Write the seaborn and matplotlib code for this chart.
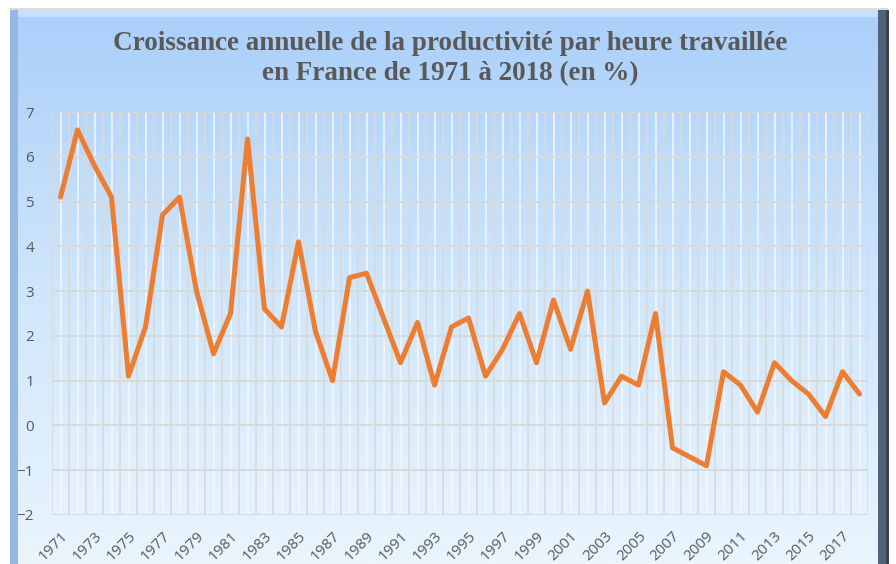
import numpy as np
import matplotlib
matplotlib.use("Agg")
import matplotlib.pyplot as plt
import seaborn as sns
from matplotlib.patches import Rectangle

# Données
annees = list(range(1971, 2019))
croissance = [5.1, 6.6, 5.8, 5.1, 1.1, 2.2, 4.7, 5.1, 3.0, 1.6,
              2.5, 6.4, 2.6, 2.2, 4.1, 2.1, 1.0, 3.3, 3.4, 2.4,
              1.4, 2.3, 0.9, 2.2, 2.4, 1.1, 1.7, 2.5, 1.4, 2.8,
              1.7, 3.0, 0.5, 1.1, 0.9, 2.5, -0.5, -0.7, -0.9, 1.2,
              0.9, 0.3, 1.4, 1.0, 0.7, 0.2, 1.2, 0.7]
etiquettes = [str(a) if (a - 1971) % 2 == 0 else "" for a in annees]

titre = "Croissance annuelle de la productivité par heure travaillée\nen France de 1971 à 2018 (en %)"

sns.set_style("white")
plt.rcParams['font.family'] = ['Open Sans', 'DejaVu Sans']

fig = plt.figure(figsize=(8.96, 5.64), dpi=100)
fig.patch.set_facecolor("white")

W, H = 896, 564

# Cadre avec dégradé bleu
bg = fig.add_axes([0, 0, 1, 1], zorder=0)
bg.set_xlim(0, W)
bg.set_ylim(H, 0)
bg.axis("off")
grad = np.linspace(0, 1, 256).reshape(-1, 1)
cmap = matplotlib.colors.LinearSegmentedColormap.from_list("fond", ["#aacffa", "#cfe6fc", "#eaf5fe"])
bg.imshow(grad, cmap=cmap, aspect="auto", extent=[10, 886, H, 10], zorder=1)
bg.add_patch(Rectangle((9, 8), 879, 2, color="#dcdcdc", lw=0, zorder=2))
bg.add_patch(Rectangle((10, 10), 876, 7, color="#c6e0fc", lw=0, zorder=2))
bg.add_patch(Rectangle((10, 10), 8, H - 10, color="#93b9e4", lw=0, zorder=3))
bg.add_patch(Rectangle((878, 10), 8, H - 10, color="#51627a", lw=0, zorder=3))
bg.add_patch(Rectangle((886, 10), 3, H - 10, color="#3a4350", lw=0, zorder=3))

# Zone de tracé
ax = fig.add_axes([52 / W, 1 - 515 / H, (868 - 52) / W, (515 - 112) / H], zorder=2)
ax.set_facecolor("none")

sns.lineplot(x=annees, y=croissance, ax=ax, color="#ed7d31", linewidth=3.6, zorder=5)

ax.set_xlim(1970.5, 2018.5)
ax.set_ylim(-2, 7)
ax.set_yticks(range(-2, 8))
ax.set_xticks(annees)
ax.set_xticklabels(etiquettes, rotation=45, ha="right", rotation_mode="anchor")
ax.set_xticks([a + 0.5 for a in annees[:-1]] + [1970.5], minor=True)

ax.grid(True, axis="y", which="major", color="#d9d9d9", linewidth=1.4, zorder=1)
ax.grid(True, axis="x", which="major", color="#f6f7f8", linewidth=1.1, zorder=1)
ax.grid(True, axis="x", which="minor", color="#d9d9d9", linewidth=1.2, zorder=1)
ax.set_axisbelow(True)

for s in ax.spines.values():
    s.set_visible(False)
ax.axvline(2018.5, color="#d9d9d9", linewidth=1.2, zorder=1)
ax.axhline(7, color="#d9d9d9", linewidth=1.4, zorder=1)

ax.tick_params(axis="both", which="both", length=0, colors="#595959", labelsize=11)
ax.tick_params(axis="y", pad=13)
ax.tick_params(axis="x", pad=10)
ax.set_xlabel("")
ax.set_ylabel("")

fig.text(0.502, 0.896, titre, ha="center", va="center", fontsize=19.5, fontweight="bold",
         color="#595959", family=["Liberation Serif", "DejaVu Serif"], linespacing=1.25)

plt.savefig("out.png", dpi=100)
